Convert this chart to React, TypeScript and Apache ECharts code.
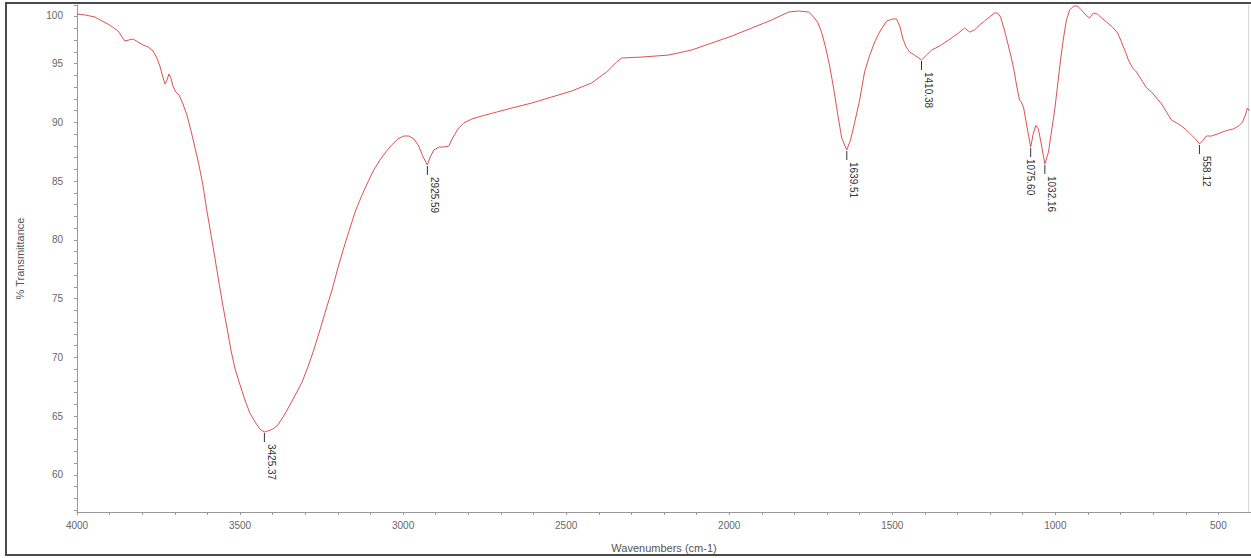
import React, { useEffect, useRef } from "react";
import * as echarts from "echarts";

// FTIR spectrum: wavenumber (cm-1) vs % transmittance
const wavenumbers = [
  4000, 3975, 3945, 3929, 3905, 3887, 3874, 3862, 3853, 3841, 3828, 3813, 3798, 3782, 3767, 3755,
  3746, 3736, 3730, 3724, 3718, 3712, 3706, 3697, 3687, 3675, 3663, 3651, 3638, 3626, 3614, 3602,
  3589, 3577, 3565, 3553, 3540, 3528, 3516, 3500, 3485, 3470, 3454, 3439, 3425.37, 3415, 3399, 3384,
  3366, 3347, 3329, 3310, 3292, 3274, 3255, 3237, 3218, 3200, 3182, 3163, 3145, 3126, 3108, 3090,
  3071, 3053, 3035, 3016, 2998, 2982, 2967, 2952, 2940, 2925.59, 2918, 2906, 2890, 2875, 2860, 2848,
  2832, 2814, 2789, 2759, 2713, 2667, 2605, 2544, 2483, 2422, 2376, 2345, 2330, 2268, 2186, 2115,
  2054, 1992, 1931, 1870, 1818, 1787, 1756, 1744, 1729, 1717, 1704, 1692, 1680, 1667, 1655, 1639.51,
  1628, 1615, 1600, 1585, 1569, 1554, 1539, 1517, 1499, 1487, 1477, 1468, 1459, 1447, 1432, 1410.38,
  1395, 1379, 1355, 1327, 1297, 1278, 1263, 1248, 1232, 1217, 1202, 1186, 1177, 1168, 1156, 1146,
  1137, 1128, 1119, 1110, 1104, 1097, 1088, 1075.6, 1068, 1060, 1052, 1042, 1032.16, 1021, 1012, 1002,
  993, 984, 975, 966, 956, 944, 932, 920, 907, 895, 883, 871, 858, 843, 825, 809,
  797, 785, 776, 763, 751, 736, 720, 705, 690, 674, 659, 644, 628, 613, 598, 583,
  570, 558.12, 546, 537, 521, 503, 488, 469, 454, 438, 426, 417, 411, 405,
];

const transmittance = [
  99.23, 99.15, 98.98, 98.72, 98.38, 98.04, 97.79, 97.28, 96.94, 97.02, 97.11, 96.85, 96.6, 96.43, 96.09, 95.49,
  94.81, 93.79, 93.28, 93.62, 94.13, 93.79, 93.11, 92.6, 92.34, 91.57, 90.64, 89.36, 87.83, 86.38, 84.68, 82.55,
  80.43, 78.47, 76.43, 74.47, 72.51, 70.64, 69.11, 67.66, 66.38, 65.28, 64.51, 63.91, 63.66, 63.74, 63.91, 64.26,
  65.02, 65.96, 66.89, 67.91, 69.19, 70.64, 72.34, 74.04, 75.74, 77.62, 79.32, 81.02, 82.55, 83.83, 84.93, 85.96,
  86.81, 87.49, 88.09, 88.6, 88.85, 88.85, 88.6, 88.0, 87.15, 86.38, 86.98, 87.66, 87.91, 87.91, 88.0, 88.68,
  89.45, 89.96, 90.3, 90.55, 90.89, 91.23, 91.66, 92.17, 92.68, 93.36, 94.3, 95.15, 95.49, 95.57, 95.74, 96.17,
  96.76, 97.36, 98.04, 98.72, 99.4, 99.49, 99.4, 99.06, 98.55, 97.7, 96.34, 94.81, 92.94, 90.64, 88.68, 87.66,
  88.51, 90.04, 91.91, 94.3, 95.74, 96.85, 97.7, 98.64, 98.81, 98.81, 98.21, 97.19, 96.51, 96.0, 95.74, 95.32,
  95.74, 96.17, 96.51, 97.02, 97.62, 98.04, 97.7, 97.87, 98.3, 98.64, 98.98, 99.32, 99.32, 98.98, 97.87, 96.76,
  95.74, 94.64, 93.19, 91.91, 91.74, 91.23, 89.79, 87.91, 89.0, 89.75, 89.45, 88.0, 86.47, 87.49, 89.19, 91.06,
  93.19, 95.32, 97.19, 98.72, 99.57, 99.91, 99.91, 99.57, 99.15, 98.89, 99.32, 99.23, 98.89, 98.55, 98.13, 97.62,
  96.85, 96.0, 95.32, 94.64, 94.3, 93.62, 92.94, 92.6, 92.09, 91.57, 90.89, 90.21, 89.96, 89.7, 89.36, 88.94,
  88.6, 88.17, 88.51, 88.85, 88.85, 89.02, 89.19, 89.36, 89.45, 89.7, 90.04, 90.64, 91.23, 90.98,
];

// Labelled peaks
const peakWavenumbers = [3425.37, 2925.59, 1639.51, 1410.38, 1075.6, 1032.16, 558.12];
const peakTransmittance = [63.66, 86.38, 87.66, 95.32, 87.91, 86.47, 88.17];
const peakLabelShift = [7, 7, 7, 7, 0, 7, 7];

// Axis ticks
const xLabelValues = [4000, 3500, 3000, 2500, 2000, 1500, 1000, 500];
const yLabelValues = [60, 65, 70, 75, 80, 85, 90, 95, 100];

const FONT = "'Liberation Sans', Arial, sans-serif";

export default function App() {
  const ref = useRef<HTMLDivElement>(null);

  useEffect(() => {
    if (!ref.current) return;
    const chart = echarts.init(ref.current, undefined, { renderer: "svg" });

    const xTicks: number[] = [];
    for (let v = 4000; v >= 400; v -= 100) xTicks.push(v);
    const yTicks: number[] = [];
    for (let v = 57; v <= 100; v += 1) yTicks.push(v);

    const lineData = wavenumbers.map((w, i) => [w, transmittance[i]]);
    const peakData = peakWavenumbers.map((w, i) => [w, peakTransmittance[i], i]);

    chart.setOption({
      animation: false,
      backgroundColor: "#ffffff",
      grid: { left: 77, right: 0, top: 5, bottom: 46, containLabel: false },
      xAxis: {
        type: "value",
        inverse: true,
        min: 400,
        max: 4000,
        name: "Wavenumbers (cm-1)",
        nameLocation: "middle",
        nameGap: 30,
        nameTextStyle: { fontFamily: FONT, fontSize: 11, color: "#555" },
        axisLine: { show: true, onZero: false, lineStyle: { color: "#999", width: 1 } },
        axisTick: { show: true, length: 3, customValues: xTicks, lineStyle: { color: "#999" } },
        axisLabel: {
          customValues: xLabelValues,
          formatter: (v: number) => String(v),
          fontFamily: FONT,
          fontSize: 10,
          color: "#666",
          margin: 8,
        },
        splitLine: { show: false },
      },
      yAxis: {
        type: "value",
        min: 56.85,
        max: 100,
        name: "% Transmittance",
        nameLocation: "middle",
        nameGap: 52,
        nameTextStyle: { fontFamily: FONT, fontSize: 11, color: "#555" },
        axisLine: { show: true, onZero: false, lineStyle: { color: "#999", width: 1 } },
        axisTick: { show: true, length: 3, customValues: yTicks, lineStyle: { color: "#999" } },
        axisLabel: {
          customValues: yLabelValues,
          fontFamily: FONT,
          fontSize: 10,
          color: "#666",
          margin: 14,
          formatter: (v: number) => (v === 100 ? "{t|100}" : String(v)),
          rich: {
            t: { fontFamily: FONT, fontSize: 10, color: "#666", padding: [20, 0, 0, 0] },
          },
        },
        splitLine: { show: false },
      },
      graphic: [
        {
          type: "rect",
          silent: true,
          z: -10,
          shape: { x: 6, y: 3, width: 1260, height: 552 },
          style: { fill: "none", stroke: "#4a4a4a", lineWidth: 2 },
        },
        {
          type: "line",
          silent: true,
          shape: { x1: 1248.5, y1: 5, x2: 1248.5, y2: 512 },
          style: { stroke: "#d8d8d8", lineWidth: 1 },
        },
      ],
      series: [
        {
          type: "line",
          data: lineData,
          showSymbol: false,
          symbol: "none",
          lineStyle: { color: "#e05050", width: 1 },
          clip: true,
        },
        {
          type: "custom",
          coordinateSystem: "cartesian2d",
          data: peakData,
          encode: { x: 0, y: 1 },
          renderItem: (params: any, api: any) => {
            const w = api.value(0);
            const idx = api.value(2);
            const p = api.coord([w, api.value(1)]);
            return {
              type: "group",
              children: [
                {
                  type: "line",
                  shape: { x1: p[0], y1: p[1] + 1, x2: p[0], y2: p[1] + 10 },
                  style: { stroke: "#333", lineWidth: 1 },
                },
                {
                  type: "text",
                  x: p[0] + peakLabelShift[idx],
                  y: p[1] + 12,
                  rotation: -Math.PI / 2,
                  style: {
                    text: Number(w).toFixed(2),
                    fontFamily: FONT,
                    fontSize: 10,
                    fill: "#333",
                    align: "left",
                    verticalAlign: "middle",
                  },
                },
              ],
            };
          },
        },
      ],
    });

    return () => chart.dispose();
  }, []);

  return (
    <div
      ref={ref}
      style={{
        position: "fixed",
        left: 0,
        top: 0,
        width: 1251,
        height: 558,
        background: "#ffffff",
      }}
    />
  );
}
